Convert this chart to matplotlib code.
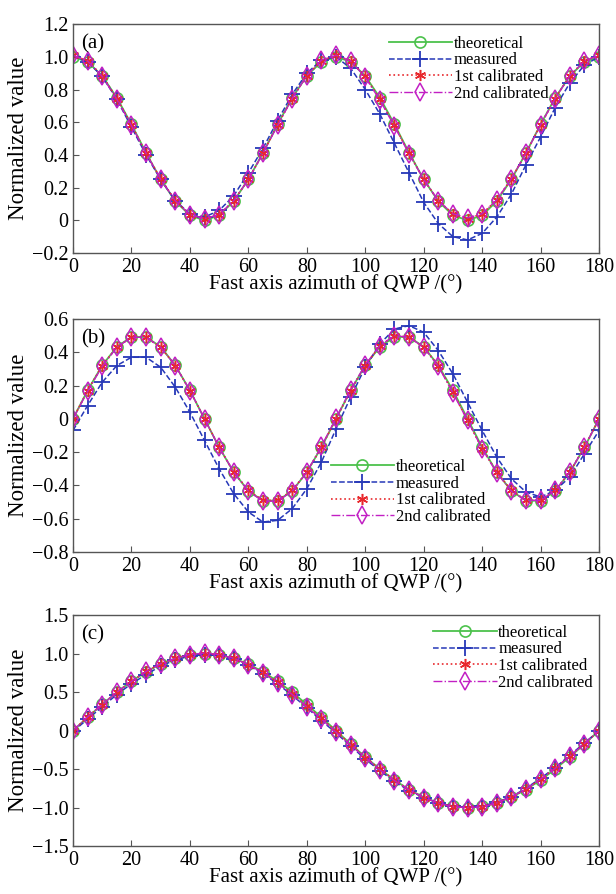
import numpy as np
import matplotlib
matplotlib.use('Agg')
import matplotlib.pyplot as plt

plt.rcParams['font.family'] = ['Liberation Serif', 'DejaVu Serif']
plt.rcParams['mathtext.fontset'] = 'stix'

# QWP fast axis azimuth, degrees
angle = list(range(0, 181, 5))

# (a)
a_theo = [1.0, 0.97, 0.883, 0.75, 0.587, 0.413, 0.25, 0.117, 0.03, 0.0, 0.03, 0.117, 0.25,
          0.413, 0.587, 0.75, 0.883, 0.97, 1.0, 0.97, 0.883, 0.75, 0.587, 0.413, 0.25,
          0.117, 0.03, 0.0, 0.03, 0.117, 0.25, 0.413, 0.587, 0.75, 0.883, 0.97, 1.0]
a_meas = [1.0, 0.97, 0.88, 0.74, 0.57, 0.40, 0.25, 0.12, 0.04, 0.02, 0.06, 0.15, 0.29,
          0.44, 0.61, 0.77, 0.90, 0.98, 1.0, 0.93, 0.80, 0.65, 0.47, 0.29, 0.11,
          -0.02, -0.10, -0.12, -0.08, 0.02, 0.16, 0.34, 0.51, 0.69, 0.84, 0.95, 1.0]
a_cal1 = [1.01, 0.975, 0.885, 0.745, 0.585, 0.41, 0.255, 0.12, 0.035, 0.01, 0.035, 0.12, 0.25,
          0.41, 0.585, 0.745, 0.885, 0.975, 1.01, 0.975, 0.88, 0.74, 0.58, 0.41, 0.25,
          0.12, 0.04, 0.01, 0.04, 0.125, 0.255, 0.41, 0.585, 0.745, 0.885, 0.975, 1.01]
a_cal2 = [1.01, 0.975, 0.88, 0.74, 0.58, 0.41, 0.25, 0.12, 0.035, 0.01, 0.035, 0.12, 0.25,
          0.41, 0.58, 0.745, 0.885, 0.98, 1.01, 0.975, 0.875, 0.735, 0.575, 0.405, 0.25,
          0.12, 0.04, 0.015, 0.04, 0.125, 0.255, 0.41, 0.585, 0.745, 0.885, 0.975, 1.01]

# (b)
b_theo = [0.0, 0.171, 0.321, 0.433, 0.492, 0.492, 0.433, 0.321, 0.171, 0.0, -0.171, -0.321, -0.433,
          -0.492, -0.492, -0.433, -0.321, -0.171, 0.0, 0.171, 0.321, 0.433, 0.492, 0.492, 0.433,
          0.321, 0.171, 0.0, -0.171, -0.321, -0.433, -0.492, -0.492, -0.433, -0.321, -0.171, 0.0]
b_meas = [-0.07, 0.08, 0.22, 0.32, 0.37, 0.37, 0.31, 0.19, 0.04, -0.13, -0.30, -0.45, -0.56,
          -0.62, -0.61, -0.54, -0.42, -0.26, -0.06, 0.13, 0.31, 0.45, 0.54, 0.56, 0.52,
          0.41, 0.27, 0.10, -0.07, -0.23, -0.36, -0.44, -0.47, -0.43, -0.35, -0.21, -0.07]
b_cal1 = [0.0, 0.17, 0.32, 0.43, 0.49, 0.49, 0.43, 0.32, 0.17, 0.0, -0.17, -0.32, -0.43,
          -0.49, -0.49, -0.43, -0.32, -0.17, 0.0, 0.17, 0.32, 0.44, 0.5, 0.49, 0.43,
          0.32, 0.16, -0.01, -0.18, -0.32, -0.43, -0.49, -0.49, -0.43, -0.32, -0.17, 0.0]
b_cal2 = [0.0, 0.165, 0.315, 0.43, 0.49, 0.49, 0.43, 0.32, 0.17, 0.0, -0.17, -0.32, -0.435,
          -0.495, -0.495, -0.435, -0.32, -0.165, 0.005, 0.175, 0.325, 0.44, 0.5, 0.49, 0.43,
          0.315, 0.155, -0.01, -0.18, -0.325, -0.435, -0.49, -0.49, -0.43, -0.32, -0.17, 0.0]

# (c)
c_theo = [0.0, 0.174, 0.342, 0.5, 0.643, 0.766, 0.866, 0.94, 0.985, 1.0, 0.985, 0.94, 0.866,
          0.766, 0.643, 0.5, 0.342, 0.174, 0.0, -0.174, -0.342, -0.5, -0.643, -0.766, -0.866,
          -0.94, -0.985, -1.0, -0.985, -0.94, -0.866, -0.766, -0.643, -0.5, -0.342, -0.174, 0.0]
c_meas = [-0.01, 0.15, 0.31, 0.47, 0.61, 0.73, 0.84, 0.92, 0.97, 0.99, 0.98, 0.93, 0.85,
          0.74, 0.61, 0.46, 0.3, 0.13, -0.03, -0.2, -0.37, -0.52, -0.66, -0.78, -0.87,
          -0.94, -0.98, -0.99, -0.98, -0.93, -0.86, -0.75, -0.62, -0.48, -0.32, -0.16, 0.0]
c_cal1 = [0.0, 0.18, 0.34, 0.5, 0.64, 0.77, 0.87, 0.94, 0.99, 1.0, 0.99, 0.94, 0.86,
          0.76, 0.63, 0.48, 0.32, 0.16, -0.01, -0.18, -0.35, -0.5, -0.64, -0.77, -0.87,
          -0.94, -0.99, -1.0, -0.99, -0.94, -0.86, -0.76, -0.63, -0.49, -0.33, -0.17, 0.0]
c_cal2 = [0.0, 0.18, 0.34, 0.5, 0.64, 0.77, 0.87, 0.94, 0.99, 1.01, 0.99, 0.94, 0.86,
          0.75, 0.62, 0.47, 0.31, 0.15, -0.02, -0.19, -0.35, -0.51, -0.65, -0.77, -0.87,
          -0.94, -0.99, -1.0, -0.99, -0.94, -0.86, -0.76, -0.63, -0.49, -0.33, -0.17, 0.0]

labels = ['theoretical', 'measured', '1st calibrated', '2nd calibrated']

a_ticks = [-0.2, 0, 0.2, 0.4, 0.6, 0.8, 1.0, 1.2]
b_ticks = [-0.8, -0.6, -0.4, -0.2, 0, 0.2, 0.4, 0.6]
c_ticks = [-1.5, -1.0, -0.5, 0, 0.5, 1.0, 1.5]

green = '#4cc24c'
blue = '#2638b8'
red = '#e8282c'
mag = '#c21fc4'


def fmt(v):
    if v == 0:
        return '0'
    s = '%.1f' % abs(v)
    return ('\u2212' + s) if v < 0 else s


def panel(ax, theo, meas, cal1, cal2, ticks, tag, leg_loc):
    ax.plot(angle, theo, '-', color=green, lw=1.3, marker='o', ms=8, mfc='none',
            mec=green, mew=1.2, label=labels[0])
    ax.plot(angle, meas, '--', color=blue, lw=1.1, marker='+', ms=11, mew=1.3,
            label=labels[1])
    # asterisk marker like matlab '*'
    ax.plot(angle, cal1, ':', color=red, lw=1.2, marker=(6, 2, 0), ms=8, mew=1.1,
            mec=red, label=labels[2])
    ax.plot(angle, cal2, '-.', color=mag, lw=1.0, marker='d', ms=9, mfc='none',
            mec=mag, mew=1.1, label=labels[3])
    ax.set_xlim(0, 180)
    ax.set_ylim(ticks[0], ticks[-1])
    ax.set_xticks(range(0, 181, 20))
    ax.set_yticks(ticks)
    ax.set_yticklabels([fmt(t) for t in ticks])
    ax.tick_params(direction='in', labelsize=14.5, length=4, color='#555555')
    for s in ax.spines.values():
        s.set_color('#555555')
        s.set_linewidth(1.0)
    ax.set_xlabel('Fast axis azimuth of QWP /(\u00b0)', fontsize=15, labelpad=-1)
    ax.set_ylabel('Normalized value', fontsize=16.5, labelpad=2)
    ax.text(0.015, 0.955, tag, transform=ax.transAxes, fontsize=15, va='top')
    ax.legend(loc='upper left', bbox_to_anchor=leg_loc, frameon=False, fontsize=12,
              handlelength=3.8, handletextpad=0.1, labelspacing=0.05,
              borderaxespad=0, borderpad=0)


fig = plt.figure(figsize=(6.16, 8.94), dpi=100)
ax1 = fig.add_axes([0.1185, 0.717, 0.854, 0.256])
ax2 = fig.add_axes([0.1185, 0.3826, 0.854, 0.2606])
ax3 = fig.add_axes([0.1185, 0.0537, 0.854, 0.258])

panel(ax1, a_theo, a_meas, a_cal1, a_cal2, a_ticks, '(a)', (0.60, 0.95))
panel(ax2, b_theo, b_meas, b_cal1, b_cal2, b_ticks, '(b)', (0.49, 0.40))
panel(ax3, c_theo, c_meas, c_cal1, c_cal2, c_ticks, '(c)', (0.685, 0.96))

fig.savefig('out.png', dpi=100)
